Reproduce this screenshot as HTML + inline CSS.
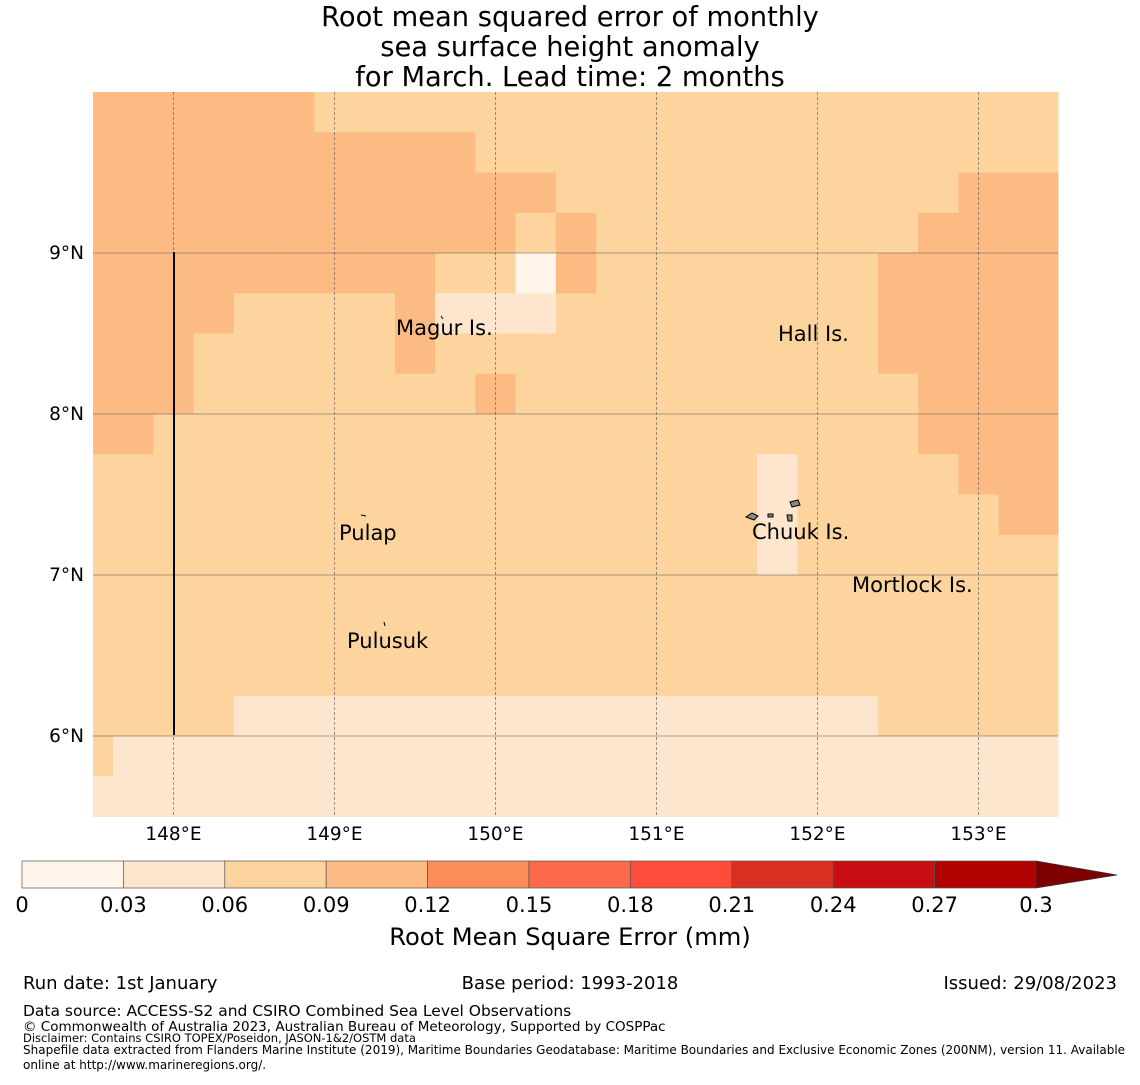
<!DOCTYPE html>
<html><head><meta charset="utf-8"><style>
body{margin:0;background:#fff;font-family:"Liberation Sans","DejaVu Sans",sans-serif;}
svg text{font-family:"DejaVu Sans","Liberation Sans",sans-serif;}
</style></head><body>
<svg id="chart" width="1140" height="1080" viewBox="0 0 1140 1080" xmlns="http://www.w3.org/2000/svg">
<g font-size="27.3" text-anchor="middle" fill="#000">
<text x="570" y="26">Root mean squared error of monthly</text>
<text x="570" y="56">sea surface height anomaly</text>
<text x="570" y="86">for March. Lead time: 2 months</text>
</g>
<g id="cells"></g>
<g id="grid"></g>
<line x1="174" y1="252" x2="174" y2="735" stroke="#000" stroke-width="2"/>
<g font-size="21" fill="#000">
<text x="396" y="335">Magur Is.</text>
<text x="778" y="341">Hall Is.</text>
<text x="339" y="540">Pulap</text>
<text x="752" y="539">Chuuk Is.</text>
<text x="852" y="592">Mortlock Is.</text>
<text x="347" y="648">Pulusuk</text>
</g>
<g fill="#888" stroke="#000" stroke-width="1">
<path d="M746 517 l6 -4 l6 3 l-4 4 z"/><path d="M790 502 l8 -2 l2 5 l-8 2 z"/><path d="M787 515 l5 0 l0 6 l-4 0 z"/><path d="M768 514 l5 0 l0 3 l-5 0 z"/>
<path d="M361 515 l5 1" fill="none"/><path d="M384 622 l1 4" fill="none"/><path d="M441 316 l2 3" fill="none"/>
</g>
<g id="axes" font-size="18.5" fill="#000"></g>
<g id="cbar"></g>
<text x="570" y="945" font-size="24.2" text-anchor="middle">Root Mean Square Error (mm)</text>
<g fill="#000">
<text x="23" y="989" font-size="18">Run date: 1st January</text>
<text x="570" y="989" font-size="18" text-anchor="middle">Base period: 1993-2018</text>
<text x="1117" y="989" font-size="18" text-anchor="end">Issued: 29/08/2023</text>
<text x="23" y="1016" font-size="15.5">Data source: ACCESS-S2 and CSIRO Combined Sea Level Observations</text>
<text x="23" y="1031" font-size="13.5">© Commonwealth of Australia 2023, Australian Bureau of Meteorology, Supported by COSPPac</text>
<text x="23" y="1042" font-size="11.5">Disclaimer: Contains CSIRO TOPEX/Poseidon, JASON-1&amp;2/OSTM data</text>
<text x="23" y="1054" font-size="12">Shapefile data extracted from Flanders Marine Institute (2019), Maritime Boundaries Geodatabase: Maritime Boundaries and Exclusive Economic Zones (200NM), version 11. Available</text>
<text x="23" y="1069" font-size="12">online at http://www.marineregions.org/.</text>
</g>
</svg>
<script>
const lonTicks=[148,149,150,151,152,153];
const latTicks=[6,7,8,9];
const levels=[0,0.03,0.06,0.09,0.12,0.15,0.18,0.21,0.24,0.27,0.3];
const levelLabels=["0","0.03","0.06","0.09","0.12","0.15","0.18","0.21","0.24","0.27","0.3"];
const colors=["#fff5eb","#fee6ce","#fdd49e","#fdbb84","#fc8d59","#fc6a4a","#fd4d3a","#d92f21","#c80d12","#b00000"];
const overColor="#7f0000";
const gridRows=[
"3333332222222222222222222",
"3333333333222222222222222",
"3333333333332222222222333",
"3333333333323222222223333",
"3333333332203222222233333",
"3333222231112222222233333",
"3332222232222222222233333",
"3332222222322222222223333",
"3322222222222222222223333",
"2222222222222222212222333",
"2222222222222222212222233",
"2222222222222222212222222",
"2222222222222222222222222",
"2222222222222222222222222",
"2222222222222222222222222",
"2222111111111111111122222",
"2111111111111111111111111",
"1111111111111111111111111"];
const rmse=gridRows.map(r=>r.split('').map(c=>levels[+c]+0.015));
const NS="http://www.w3.org/2000/svg";
const x=lon=>93+(lon-147.5)*161, y=lat=>92+(10-lat)*161;
function cls(v){for(let i=0;i<colors.length;i++) if(v<levels[i+1]) return colors[i]; return overColor;}
const cells=document.getElementById('cells');
rmse.forEach((row,r)=>row.forEach((v,c)=>{
 const lon0=147.375+0.25*c, lat0=10-0.25*r;
 const x0=Math.max(93,x(lon0)), x1=Math.min(1058,x(lon0+0.25));
 const e=document.createElementNS(NS,'rect');
 
 
 e.setAttribute('x',x0);e.setAttribute('y',y(lat0));e.setAttribute('width',x1-x0+0.5);e.setAttribute('height',161*0.25+0.5);
 e.setAttribute('fill',cls(v));cells.appendChild(e);
}));
const grid=document.getElementById('grid'), axes=document.getElementById('axes');
lonTicks.forEach(l=>{
 const g=document.createElementNS(NS,'line');
 
 
 g.setAttribute('x1',x(l));g.setAttribute('x2',x(l));g.setAttribute('y1',92);g.setAttribute('y2',815);
 g.setAttribute('stroke','#555');g.setAttribute('stroke-width','0.6');g.setAttribute('stroke-dasharray','3,2');grid.appendChild(g);
 const t=document.createElementNS(NS,'text');
 
 
 t.setAttribute('x',x(l));t.setAttribute('y',840);t.setAttribute('text-anchor','middle');t.textContent=l+'°E';axes.appendChild(t);
});
latTicks.forEach(l=>{
 const g=document.createElementNS(NS,'line');
 
 
 g.setAttribute('x1',93);g.setAttribute('x2',1058);g.setAttribute('y1',y(l));g.setAttribute('y2',y(l));
 g.setAttribute('stroke','#555');g.setAttribute('stroke-width','0.6');grid.appendChild(g);
 const t=document.createElementNS(NS,'text');
 
 
 t.setAttribute('x',84);t.setAttribute('y',y(l)+6);t.setAttribute('text-anchor','end');t.textContent=l+'°N';axes.appendChild(t);
});
const cb=document.getElementById('cbar');
const cx=v=>22+(v/0.3)*1014;
colors.forEach((c,i)=>{
 const e=document.createElementNS(NS,'rect');
 
 
 e.setAttribute('x',cx(levels[i]));e.setAttribute('y',861);e.setAttribute('width',cx(levels[i+1])-cx(levels[i]));e.setAttribute('height',27);
 e.setAttribute('fill',c);e.setAttribute('stroke','#555');e.setAttribute('stroke-width','0.7');cb.appendChild(e);
});
const ar=document.createElementNS(NS,'polygon');


ar.setAttribute('points','1036,861 1117,875 1036,888');ar.setAttribute('fill',overColor);ar.setAttribute('stroke','#333');ar.setAttribute('stroke-width','0.7');cb.appendChild(ar);
levels.forEach((v,i)=>{
 const t=document.createElementNS(NS,'text');
 
 
 t.setAttribute('x',cx(v));t.setAttribute('y',912);t.setAttribute('text-anchor','middle');t.setAttribute('font-size','21');t.textContent=levelLabels[i];cb.appendChild(t);
});
</script>
</body></html>
